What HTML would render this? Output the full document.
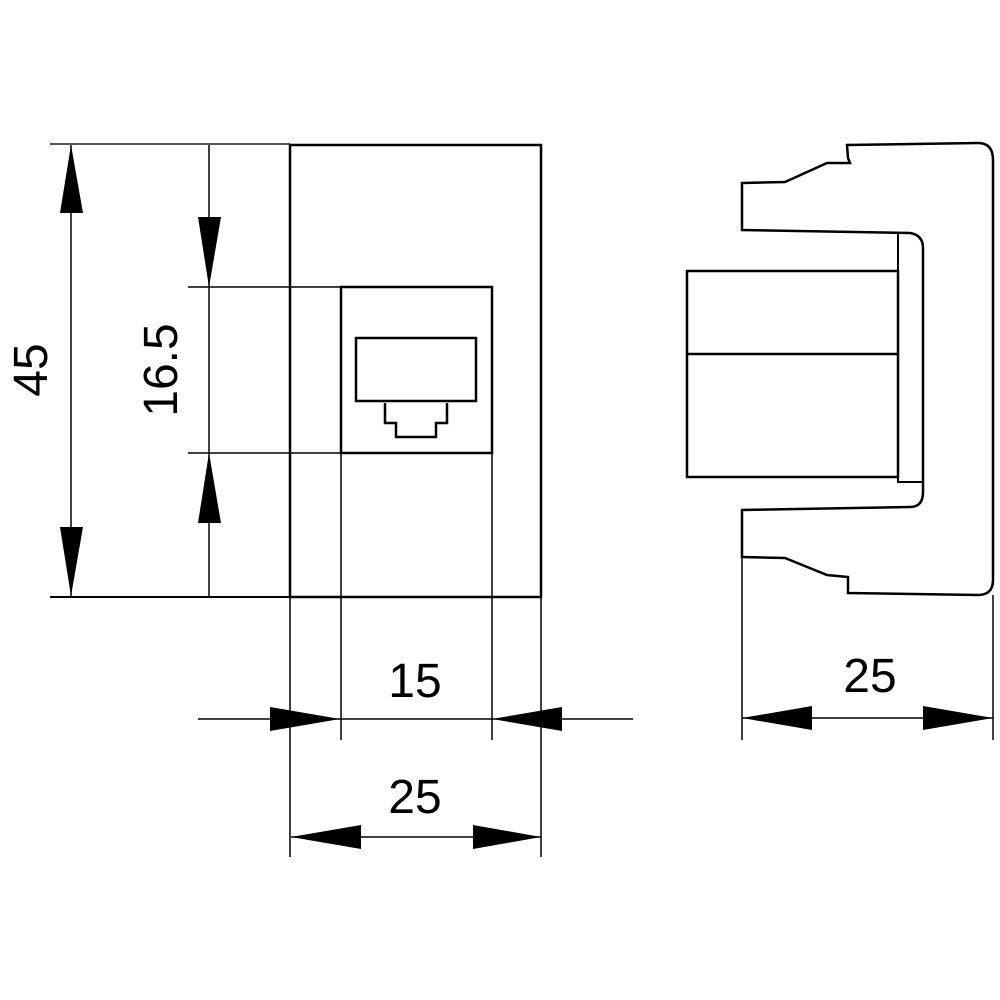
<!DOCTYPE html>
<html><head><meta charset="utf-8"><style>html,body{margin:0;padding:0;background:#fff}svg{display:block}</style></head>
<body>
<svg width="1000" height="1000" viewBox="0 0 1000 1000" xmlns="http://www.w3.org/2000/svg">
<g fill="none" stroke="#000" stroke-width="1.5">
<!-- left view -->
<line x1="50" y1="144" x2="290" y2="144" stroke="#555" stroke-width="2"/>
<line x1="50" y1="597" x2="290" y2="597" stroke-width="2"/>
<line x1="71" y1="145" x2="71" y2="597"/>
<line x1="209" y1="145" x2="209" y2="597"/>
<line x1="188" y1="287" x2="340" y2="287"/>
<line x1="188" y1="453" x2="340" y2="453"/>
<rect x="290" y="145" width="251" height="452" stroke-width="2.5"/>
<rect x="341" y="287" width="151" height="166" stroke-width="2.5"/>
<rect x="356" y="338" width="120" height="63" stroke-width="2.5"/>
<polyline points="385,403 385,423 396,423 396,437 436,437 436,423 447,423 447,403" stroke-width="2.5"/>
<line x1="290" y1="597" x2="290" y2="857"/>
<line x1="541" y1="597" x2="541" y2="857"/>
<line x1="341" y1="453" x2="341" y2="740"/>
<line x1="492" y1="453" x2="492" y2="740"/>
<line x1="198" y1="719" x2="633" y2="719"/>
<line x1="291" y1="837" x2="541" y2="837"/>
<!-- right view -->
<path d="M847,145 L848,158 L850,163 L827,163 L785,182 L742,183 L742,230 L910,233 Q923,235 923,248 L923,492 Q923,507 910,507 L742,510 L742,557 L785,558 L827,575 L848,577 L848,593 L978,595 Q993,595 993,580 L993,160 Q993,143 978,143 Z" stroke-width="2.5"/>
<rect x="687" y="271" width="211" height="206" stroke-width="2.5"/>
<line x1="687" y1="354" x2="898" y2="354" stroke-width="2.5"/>
<polyline points="898,233 898,482 922,482" stroke-width="2"/>
<line x1="742" y1="557" x2="742" y2="740"/>
<line x1="993" y1="595" x2="993" y2="740"/>
<line x1="742" y1="718" x2="993" y2="718"/>
</g>
<g fill="#000">
<polygon points="71,145 60,213 83,213"/>
<polygon points="71,596 60,527 83,527"/>
<polygon points="209,287 198,217 221,217"/>
<polygon points="209,453 198,523 221,523"/>
<polygon points="340,719 270,707 270,731"/>
<polygon points="492,719 562,707 562,731"/>
<polygon points="291,837 361,825 361,849"/>
<polygon points="541,837 473,825 473,849"/>
<polygon points="742,718 812,706 812,730"/>
<polygon points="993,718 923,706 923,730"/>
</g>
<g font-family="Liberation Sans, sans-serif" font-size="48" fill="#000" text-anchor="middle">
<text x="415" y="697">15</text>
<text x="415" y="813">25</text>
<text x="870" y="692">25</text>
<text transform="translate(47,370) rotate(-90)">45</text>
<text transform="translate(177,370) rotate(-90)">16.5</text>
</g>
</svg>
</body></html>
